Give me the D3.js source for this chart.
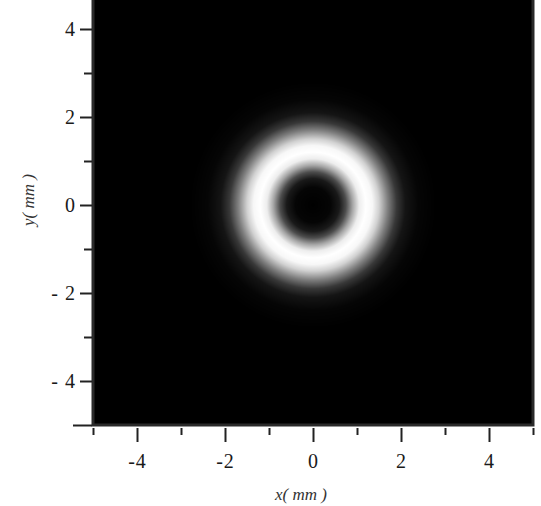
<!DOCTYPE html>
<meta charset="utf-8">
<head>
	<title> Ring beam intensity </title>
	<style>
		body { margin: 0; background: #fff; }
		.tick text { font-family: "Liberation Serif", serif; font-size: 20px; fill: #1a1a1a; }
		.tick line { stroke: #222; stroke-width: 2px; }
		.domain { display: none; }
	</style>
</head>
<body>
	<div id="chart"></div>
</body>
<script src="https://cdn.jsdelivr.net/npm/d3@7"></script>
<script type="text/javascript">

	// Plot extent (mm) and ticks
	var extent = [-5, 5];
	var majorTicks = [-4, -2, 0, 2, 4];
	var minorTicks = [-5, -3, -1, 1, 3, 5];

	// Radial intensity profile (radius in mm, brightness 0..1)
	var profileRadius = [0, 0.4, 0.6, 0.75, 0.9, 1.05, 1.2, 1.35, 1.5, 1.7, 1.9, 2.1, 2.4, 2.8, 8];
	var profileLevel  = [0, 0.02, 0.1, 0.3, 0.65, 0.93, 1.0, 0.97, 0.82, 0.5, 0.22, 0.08, 0.02, 0, 0];

	var width = 541;
	var height = 506;
	var plotLeft = 93, plotRight = 533, plotBottom = 425, plotTop = -15;

	var svg = d3.select("#chart").append("svg")
		.attr("width", width)
		.attr("height", height);

	var x = d3.scaleLinear().domain(extent).range([plotLeft, plotRight]);
	var y = d3.scaleLinear().domain(extent).range([plotBottom, plotTop]);
	var level = d3.scaleLinear().domain(profileRadius).range(profileLevel).clamp(true);

	// Rasterise the intensity field onto a canvas, one pixel per screen pixel
	var w = Math.round(plotRight - plotLeft), h = Math.round(plotBottom - plotTop);
	var canvas = document.createElement("canvas");
	canvas.width = w; canvas.height = h;
	var ctx = canvas.getContext("2d");
	var img = ctx.createImageData(w, h);
	for (var j = 0; j < h; j++) {
		var yy = y.invert(plotTop + j + 0.5);
		for (var i = 0; i < w; i++) {
			var xx = x.invert(plotLeft + i + 0.5);
			var v = Math.round(255 * level(Math.sqrt(xx * xx + yy * yy)));
			var k = 4 * (j * w + i);
			img.data[k] = v; img.data[k + 1] = v; img.data[k + 2] = v; img.data[k + 3] = 255;
		}
	}
	ctx.putImageData(img, 0, 0);

	svg.append("image")
		.attr("x", plotLeft).attr("y", plotTop)
		.attr("width", w).attr("height", h)
		.attr("href", canvas.toDataURL());

	// Frame
	svg.append("rect")
		.attr("x", plotLeft).attr("y", plotTop)
		.attr("width", plotRight - plotLeft).attr("height", plotBottom - plotTop)
		.attr("fill", "none")
		.attr("stroke", "#2a2a2a")
		.attr("stroke-width", 3);

	// x axis: major ticks with labels, minor ticks below
	svg.append("g")
		.attr("transform", "translate(0," + (plotBottom + 3) + ")")
		.call(d3.axisBottom(x).tickValues(majorTicks).tickSize(14).tickPadding(12)
			.tickFormat(function (d) { return d < 0 ? "-" + Math.abs(d) : d; }));
	svg.append("g")
		.attr("transform", "translate(0," + (plotBottom + 3) + ")")
		.call(d3.axisBottom(x).tickValues(minorTicks).tickSize(7).tickFormat(""));

	// y axis
	svg.append("g")
		.attr("transform", "translate(" + (plotLeft - 1) + ",0)")
		.call(d3.axisLeft(y).tickValues(majorTicks).tickSize(12).tickPadding(4)
			.tickFormat(function (d) { return d < 0 ? "- " + Math.abs(d) : d; }));
	svg.append("g")
		.attr("transform", "translate(" + (plotLeft - 1) + ",0)")
		.call(d3.axisLeft(y).tickValues(minorTicks.filter(function (d) { return d > -5; })).tickSize(8).tickFormat(""));
	svg.append("g")
		.attr("transform", "translate(" + (plotLeft - 1) + ",0)")
		.call(d3.axisLeft(y).tickValues([-5]).tickSize(19).tickFormat(""));

	svg.selectAll(".tick text").style("letter-spacing", "1px");

	// Axis titles
	svg.append("text")
		.attr("x", 301).attr("y", 500)
		.attr("text-anchor", "middle")
		.style("font-family", "Liberation Serif, serif")
		.style("font-style", "italic")
		.style("font-size", "17px")
		.style("fill", "#333")
		.text("x( mm )");

	svg.append("text")
		.attr("transform", "translate(34,200) rotate(-90)")
		.attr("text-anchor", "middle")
		.style("font-family", "Liberation Serif, serif")
		.style("font-style", "italic")
		.style("font-size", "17px")
		.style("fill", "#333")
		.text("y( mm )");

</script>
</html>
